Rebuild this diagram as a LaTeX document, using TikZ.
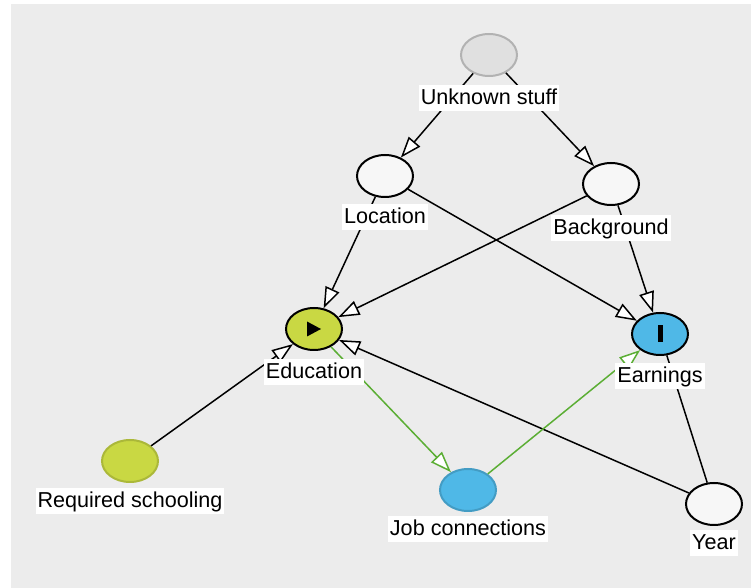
\documentclass[tikz,border=0pt]{standalone}
\usepackage{fontspec}
\setmainfont{Liberation Sans}
\usetikzlibrary{positioning,arrows.meta,shapes.geometric}
\definecolor{bggray}{HTML}{ECECEC}
\definecolor{expgreen}{HTML}{C9D843}
\definecolor{outblue}{HTML}{4FB8E7}
\definecolor{pathgreen}{HTML}{5BAE34}

\begin{document}
\begin{tikzpicture}[x=0.5pt,y=-0.5pt,
    var/.style={ellipse,draw=black,line width=1pt,fill=white!97!black,
        minimum width=28pt,minimum height=21pt,inner sep=0pt},
    latent/.style={var,draw=black!30,fill=black!12},
    exposure/.style={var,fill=expgreen},
    outcome/.style={var,fill=outblue},
    lbl/.style={fill=white,inner xsep=1pt,inner ysep=1.2pt,text height=8.2pt,
        text depth=2.4pt,font=\fontsize{10.8}{12}\selectfont},
    causal/.style={line width=0.75pt,-{Triangle[length=10.5pt,width=7.5pt,fill=white]}},
    causalg/.style={causal,draw=pathgreen}]
    \useasboundingbox (0,0) rectangle (751,588);
    \fill[bggray] (11,4) rectangle (751,588);

    \node[latent] (unk) at (489,55) {};
    \node[var] (loc) at (385,176) {};
    \node[var] (bg) at (611,184) {};
    \node[exposure] (edu) at (314,329) {};
    \node[outcome] (earn) at (660,334) {};
    \node[var,draw=expgreen!85!black,fill=expgreen] (req) at (130,461) {};
    \node[var,draw=outblue!85!black,fill=outblue] (job) at (468,490) {};
    \node[var] (year) at (714,504) {};

    \fill (edu.center) ++(-3.5pt,-3.75pt) -- ++(7pt,3.75pt) -- ++(-7pt,3.75pt) -- cycle;
    \fill (earn.center) ++(-1.25pt,-4.25pt) rectangle ++(2.5pt,8.5pt);

    \draw[causal] (unk) -- (loc);
    \draw[causal] (unk) -- (bg);
    \draw[causal] (loc) -- (edu);
    \draw[causal] (loc) -- (earn);
    \draw[causal] (bg) -- (edu);
    \draw[causal] (bg) -- (earn);
    \draw[causal] (req) -- (edu);
    \draw[causal] (year) -- (edu);
    \draw[line width=0.75pt] (year) -- (earn);
    \draw[causalg] (edu) -- (job);
    \draw[causalg] (job) -- (earn);

    \node[lbl,below=4pt of unk] (unklbl) {Unknown stuff};
    \node[lbl,below=3pt of loc] (loclbl) {Location};
    \node[lbl,below=4.5pt of bg] (bglbl) {Background};
    \node[lbl,below=4pt of edu] (edulbl) {Education};
    \node[lbl,below=3.5pt of earn] (earnlbl) {Earnings};
    \node[lbl,below=2.5pt of req] (reqlbl) {Required schooling};
    \node[lbl,below=2pt of job] (joblbl) {Job connections};
    \node[lbl,below=2pt of year] (yearlbl) {Year};
\end{tikzpicture}
\end{document}
